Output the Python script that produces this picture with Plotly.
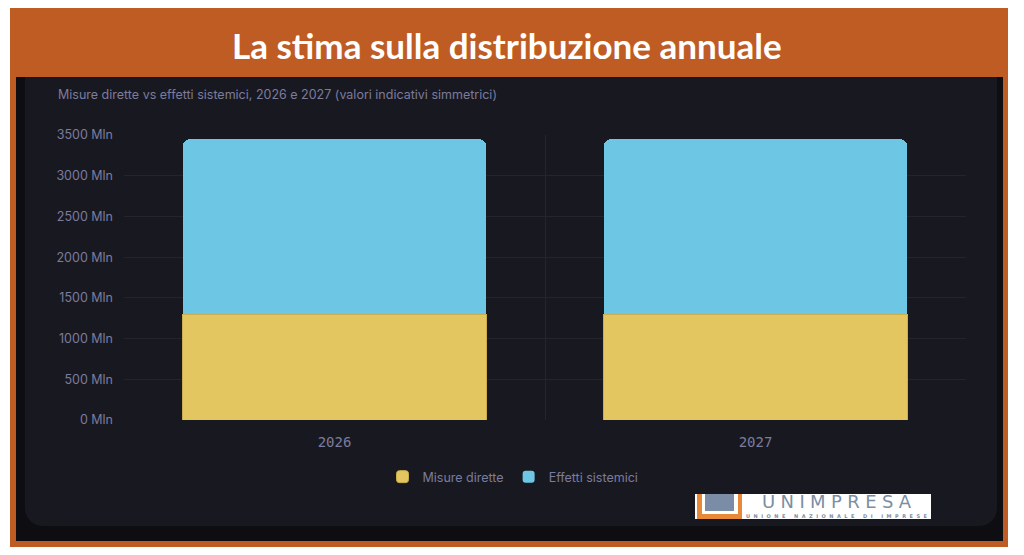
import plotly.graph_objects as go

# data
years = ["2026", "2027"]
misure_dirette = [1300, 1300]
effetti_sistemici = [2150, 2150]
y_ticks = [0, 500, 1000, 1500, 2000, 2500, 3000, 3500]
y_tick_labels = [f"{v} Mln" for v in y_ticks]

# page body has an 8px margin, so the figure sits at (8, 8)
OFF = 8
W, H = 1024 - 2 * OFF, 555 - 2 * OFF
L, R, T, B = 124 - OFF, W - (966 - OFF), 135 - OFF, H - (420 - OFF)
PW, PH = W - L - R, H - T - B


def px(x):
    # screen x -> paper x
    return (x - OFF - L) / PW


def py(y):
    # screen y -> paper y
    return (H - B - (y - OFF)) / PH


ORANGE = "#BF5C24"
TXT = "#7C7B9E"
LOGO = "#7B8EA3"

fig = go.Figure()
fig.add_trace(go.Bar(x=years, y=misure_dirette, name="Misure dirette",
                     marker=dict(color="#E3C65F", line=dict(width=1, color="#C9AE4E"))))
fig.add_trace(go.Bar(x=years, y=effetti_sistemici, name="Effetti sistemici",
                     marker=dict(color="#6CC6E4", line=dict(width=0))))


def rect(x0, y0, x1, y1, color, layer="below"):
    return dict(type="rect", xref="paper", yref="paper",
                x0=px(x0), x1=px(x1), y0=py(y1), y1=py(y0),
                fillcolor=color, line=dict(width=0), layer=layer)


shapes = [
    rect(10, 8, 1008, 547, ORANGE),           # orange frame / header
    rect(16, 77, 1003, 541, "#0E0E12"),       # dark inner area
    rect(25, 77, 997, 508, "#181920"),        # card
    rect(43, 500, 979, 526, "#181920"),       # card bottom (rounded corners below)
    # logo
    rect(695, 494, 931, 519, "white", "above"),
    rect(697, 494, 742, 519, "#E8893A", "above"),
    rect(702, 494, 738, 514, "white", "above"),
    rect(705, 494, 734, 511, "#7A8CA6", "above"),
]
for cx in (43, 979):
    shapes.append(dict(type="circle", xref="paper", yref="paper",
                       x0=px(cx - 18), x1=px(cx + 18), y0=py(526), y1=py(490),
                       fillcolor="#181920", line=dict(width=0), layer="below"))


def note(text, x, y, size, color, family, xanchor="center"):
    return dict(text=text, x=px(x), y=py(y), xref="paper", yref="paper",
                xanchor=xanchor, yanchor="middle", showarrow=False,
                font=dict(family=family, size=size, color=color))


annotations = [
    note("<b>La stima sulla distribuzione annuale</b>", 507, 45, 35, "white", "Lato"),
    note("Misure dirette vs effetti sistemici, 2026 e 2027 (valori indicativi simmetrici)",
         56, 94, 12.5, TXT, "Inter", xanchor="left"),
    note("\u2009\u200a".join("UNIMPRESA"), 837, 501, 18, LOGO, "DejaVu Sans"),
    note("<b>" + "  ".join("UNIONE NAZIONALE DI IMPRESE") + "</b>", 837, 516, 5, LOGO,
         "DejaVu Sans"),
]

fig.update_layout(
    width=W, height=H,
    margin=dict(l=L, r=R, t=T, b=B, pad=0),
    paper_bgcolor="white",
    plot_bgcolor="rgba(0,0,0,0)",
    barmode="stack",
    barcornerradius=7,
    bargap=0.28,
    shapes=shapes,
    annotations=annotations,
    showlegend=True,
    legend=dict(orientation="h", traceorder="normal", x=px(513), xanchor="center",
                y=py(477), yanchor="middle",
                font=dict(family="Inter", size=12.5, color=TXT),
                bgcolor="rgba(0,0,0,0)"),
    xaxis=dict(type="category", tickson="boundaries", showgrid=True, gridcolor="#23242C",
               ticks="", showline=False, zeroline=False, ticklabelstandoff=12,
               tickfont=dict(family="DejaVu Sans Mono", size=14, color=TXT)),
    yaxis=dict(range=[0, 3500], tickvals=y_ticks, ticktext=y_tick_labels, showgrid=True,
               gridcolor="#23242C", zeroline=False, showline=False, ticks="",
               ticklabelstandoff=10,
               tickfont=dict(family="Inter", size=12.5, color=TXT)),
)

fig.write_html("out.html")
